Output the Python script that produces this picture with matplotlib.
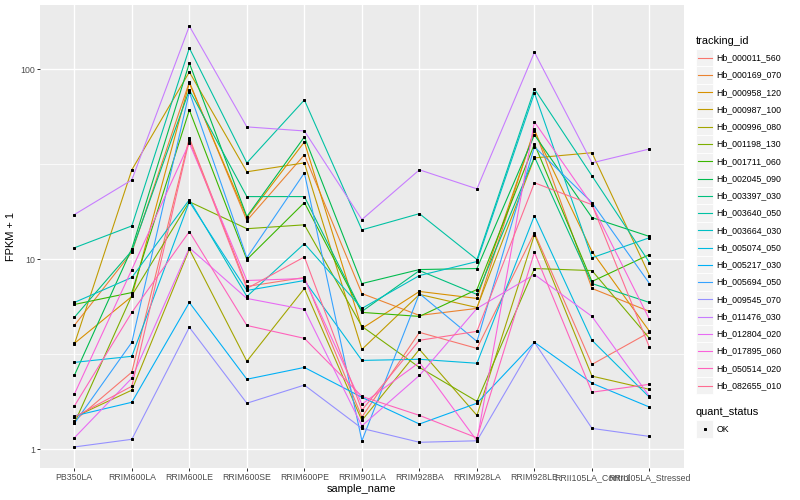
import numpy as np
import matplotlib
matplotlib.use("Agg")
import matplotlib.pyplot as plt
from matplotlib.patches import Rectangle
from matplotlib.lines import Line2D
from matplotlib.ticker import FixedLocator, NullFormatter

plt.rcParams['font.family'] = ['Liberation Sans', 'DejaVu Sans']

amostras = ["PB350LA", "RRIM600LA", "RRIM600LE", "RRIM600SE", "RRIM600PE",
            "RRIM901LA", "RRIM928BA", "RRIM928LA", "RRIM928LE",
            "RRII105LA_Control", "RRII105LA_Stressed"]

ids = ["Hb_000011_560", "Hb_000169_070", "Hb_000958_120", "Hb_000987_100",
       "Hb_000996_080", "Hb_001198_130", "Hb_001711_060", "Hb_002045_090",
       "Hb_003397_030", "Hb_003640_050", "Hb_003664_030", "Hb_005074_050",
       "Hb_005217_030", "Hb_005694_050", "Hb_009545_070", "Hb_011476_030",
       "Hb_012804_020", "Hb_017895_060", "Hb_050514_020", "Hb_082655_010"]

# FPKM + 1 (valores aproximados)
fpkm_000011 = [1.41, 2.55, 43.6, 7.20, 8.03, 1.48, 4.13, 3.40, 13.8, 2.80, 4.13]
fpkm_000169 = [4.49, 10.9, 85.8, 16.0, 35.5, 6.61, 5.07, 5.52, 48.6, 7.03, 5.32]
fpkm_000958 = [3.61, 6.38, 84.8, 16.6, 41.5, 4.33, 6.78, 6.23, 47.4, 11.0, 4.18]
fpkm_000987 = [3.57, 29.6, 96.8, 28.9, 32.2, 3.36, 6.54, 5.58, 34.2, 36.4, 8.22]
fpkm_000996 = [1.48, 2.05, 11.3, 2.91, 7.03, 1.42, 3.36, 1.51, 13.5, 2.43, 2.07]
fpkm_001198 = [1.37, 6.46, 20.1, 14.5, 15.2, 4.44, 2.70, 1.79, 8.95, 8.73, 3.84]
fpkm_001711 = [5.79, 6.69, 61.1, 9.98, 19.9, 5.26, 5.01, 6.94, 40.5, 7.65, 10.6]
fpkm_002045 = [2.45, 11.4, 107.9, 16.8, 44.1, 7.46, 8.84, 8.95, 45.2, 16.6, 13.2]
fpkm_003397 = [4.95, 11.1, 77.9, 21.4, 21.4, 5.32, 8.73, 6.54, 34.6, 7.46, 5.93]
fpkm_003640 = [11.5, 15.0, 129.4, 32.2, 69.0, 14.3, 17.4, 9.98, 78.8, 27.5, 9.62]
fpkm_003664 = [5.93, 8.03, 20.6, 6.38, 12.1, 5.52, 8.22, 9.74, 75.1, 10.2, 13.0]
fpkm_005074 = [2.87, 3.09, 20.1, 6.86, 7.74, 2.94, 2.98, 2.84, 17.0, 3.75, 1.88]
fpkm_005217 = [1.50, 1.77, 5.93, 2.34, 2.70, 1.88, 1.36, 1.75, 3.66, 2.23, 1.67]
fpkm_005694 = [1.37, 3.66, 76.0, 10.2, 28.5, 1.11, 6.61, 3.70, 39.1, 19.9, 7.46]
fpkm_009545 = [1.03, 1.13, 4.39, 1.75, 2.18, 1.29, 1.09, 1.11, 3.66, 1.29, 1.17]
fpkm_011476 = [17.2, 26.2, 169.0, 49.8, 47.4, 16.2, 29.6, 23.5, 123.0, 32.2, 38.1]
fpkm_012804 = [1.15, 2.37, 11.5, 6.23, 5.45, 1.33, 2.45, 5.52, 8.32, 5.01, 1.90]
fpkm_017895 = [1.95, 8.84, 41.0, 7.74, 7.93, 1.73, 2.87, 1.11, 52.9, 19.4, 4.83]
fpkm_050514 = [1.69, 5.26, 14.0, 4.49, 3.84, 1.90, 1.51, 1.15, 10.9, 2.00, 2.20]
fpkm_082655 = [1.48, 2.15, 42.6, 7.03, 10.3, 1.61, 3.75, 4.18, 25.3, 19.4, 3.44]

series = [fpkm_000011, fpkm_000169, fpkm_000958, fpkm_000987, fpkm_000996,
          fpkm_001198, fpkm_001711, fpkm_002045, fpkm_003397, fpkm_003640,
          fpkm_003664, fpkm_005074, fpkm_005217, fpkm_005694, fpkm_009545,
          fpkm_011476, fpkm_012804, fpkm_017895, fpkm_050514, fpkm_082655]

# paleta hue do ggplot para 20 níveis
cores = ["#F8766D", "#EA8331", "#D89000", "#C09B00", "#A3A500", "#7CAE00",
         "#39B600", "#00BB4E", "#00BF7D", "#00C1A3", "#00BFC4", "#00BAE0",
         "#00B0F6", "#35A2FF", "#9590FF", "#C77CFF", "#E76BF3", "#FA62DB",
         "#FF62BC", "#FF6C91"]

W, H = 800, 500
fig = plt.figure(figsize=(W / 72, H / 72), dpi=72)
ax = fig.add_axes([39.8 / W, 1 - 468 / H, (684 - 39.8) / W, (468 - 5) / H])
ax.set_facecolor("#EBEBEB")
for s in ax.spines.values():
    s.set_visible(False)

x = np.arange(len(amostras))
for vals, cor in zip(series, cores):
    ax.plot(x, vals, color=cor, lw=1.1, zorder=2, solid_joinstyle="round")
for vals in series:
    ax.plot(x, vals, ls="none", marker="s", ms=2.7, color="black", zorder=3)

ax.set_yscale("log")
todos = np.log10(np.concatenate(series))
faixa = todos.max() - todos.min()
ax.set_ylim(10 ** (todos.min() - 0.05 * faixa), 10 ** (todos.max() + 0.05 * faixa))
ax.set_xlim(-0.6, len(amostras) - 0.4)

ax.yaxis.set_major_locator(FixedLocator([1, 10, 100]))
ax.yaxis.set_minor_locator(FixedLocator([10 ** 0.5, 10 ** 1.5]))
ax.yaxis.set_minor_formatter(NullFormatter())
ax.set_yticklabels(["1", "10", "100"])
ax.set_xticks(x)
ax.set_xticklabels(amostras)

ax.set_axisbelow(True)
ax.grid(True, which="major", color="white", lw=1.4)
ax.yaxis.grid(True, which="minor", color="white", lw=0.7)
ax.tick_params(which="major", color="#333333", length=2.75, width=1.0,
               labelcolor="#4D4D4D", labelsize=8.8, pad=2.2)
ax.tick_params(which="minor", length=0)

ax.set_xlabel("sample_name", fontsize=11, labelpad=2.5)
ax.set_ylabel("FPKM + 1", fontsize=11, labelpad=4)

# legendas desenhadas à mão (estilo ggplot)
def fx(px):
    return px / W

def fy(py):
    return 1 - py / H

fig.text(fx(696), fy(40.7), "tracking_id", fontsize=11, va="center", ha="left")
passo = 17.26
for i, (nome, cor) in enumerate(zip(ids, cores)):
    yc = 57.7 + i * passo
    fig.patches.append(Rectangle((fx(696), fy(yc + passo / 2)), 17 / W, passo / H,
                                 transform=fig.transFigure, facecolor="#F2F2F2",
                                 edgecolor="white", lw=0.8))
    fig.lines.append(Line2D([fx(698), fx(711.5)], [fy(yc), fy(yc)],
                            transform=fig.transFigure, color=cor, lw=1.1))
    fig.text(fx(716.5), fy(yc), nome, fontsize=8.8, va="center", ha="left")

fig.text(fx(696), fy(412.3), "quant_status", fontsize=11, va="center", ha="left")
fig.patches.append(Rectangle((fx(696), fy(429 + passo / 2)), 17 / W, passo / H,
                             transform=fig.transFigure, facecolor="#F2F2F2",
                             edgecolor="white", lw=0.8))
fig.lines.append(Line2D([fx(704.5)], [fy(429)], transform=fig.transFigure,
                        ls="none", marker="s", ms=2.7, color="black"))
fig.text(fx(716.5), fy(429), "OK", fontsize=8.8, va="center", ha="left")

fig.savefig("out.png", dpi=72)
